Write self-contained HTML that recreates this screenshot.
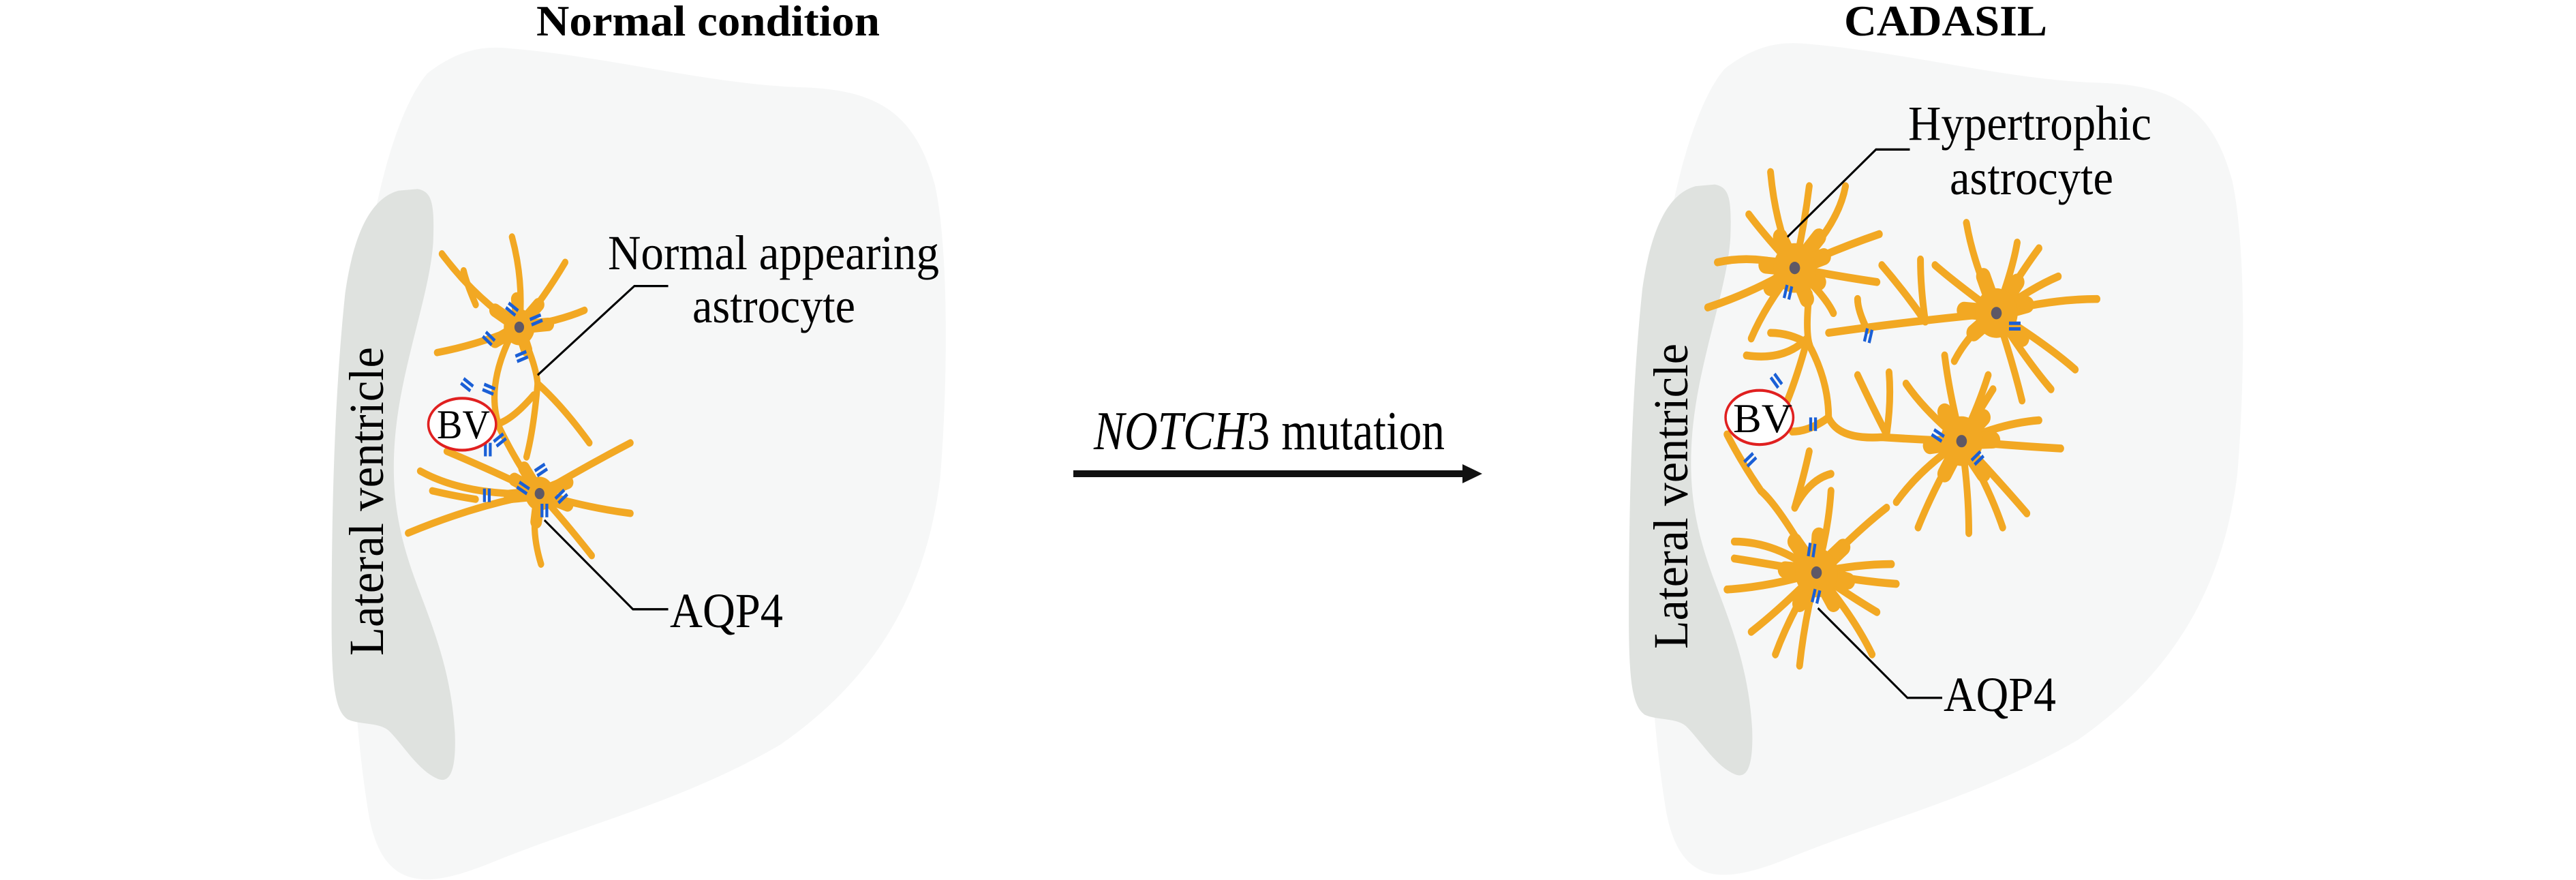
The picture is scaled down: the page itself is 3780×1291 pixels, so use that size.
<!DOCTYPE html>
<html><head><meta charset="utf-8"><style>
html,body{margin:0;padding:0;background:#fff;}
svg{display:block}
text{font-family:"Liberation Serif",serif;fill:#000}
</style></head><body>
<svg width="3780" height="1291" viewBox="0 0 3780 1291" xmlns="http://www.w3.org/2000/svg">
<defs>
<g id="blobs">
<path d="M480,85 C700,100 900,150 1100,155 C1250,160 1330,200 1370,330 C1400,450 1395,700 1380,850 C1350,1050 1250,1200 1050,1320 C850,1420 650,1460 450,1530 C320,1575 230,1580 200,1450 C160,1250 150,950 170,650 C190,400 250,200 320,130 C380,90 430,82 480,85 Z" fill="#f6f7f7"/>
<path d="M300,335 C330,340 335,360 332,430 C325,520 270,640 255,760 C240,880 265,960 300,1040 C340,1130 370,1200 377,1300 C380,1370 365,1390 340,1380 C300,1365 270,1320 240,1295 C220,1280 180,1285 155,1275 C130,1260 122,1220 122,1100 C122,900 128,700 150,520 C170,400 210,350 260,338 Z" fill="#dfe2df"/>
</g>
</defs>

<!-- LEFT PANEL -->
<g transform="translate(400,0) scale(0.7097,0.8276)">
<use href="#blobs"/>
<g fill="none" stroke="#f2a823" stroke-linecap="round">
 <g stroke-width="13">
  <path d="M510,580 Q520,500 495,420"/>
  <path d="M510,580 Q420,530 350,450"/>
  <path d="M510,580 Q560,530 605,465"/>
  <path d="M510,580 Q590,570 645,550"/>
  <path d="M510,580 Q430,610 340,625"/>
  <path d="M420,540 Q400,500 395,480"/>
  <path d="M490,600 Q440,690 470,760 Q510,830 552,875"/>
  <path d="M520,600 Q545,650 548,680 Q600,720 655,785"/>
  <path d="M548,680 Q540,760 525,810"/>
  <path d="M540,700 Q500,740 470,750"/>
  <path d="M552,875 Q420,895 280,945"/>
  <path d="M552,875 Q400,880 305,835"/>
  <path d="M552,875 Q640,830 740,785"/>
  <path d="M552,875 Q650,900 740,910"/>
  <path d="M552,875 Q530,930 555,1000"/>
  <path d="M552,875 Q600,920 660,985"/>
  <path d="M552,875 Q470,840 360,800"/>
  <path d="M420,885 Q380,880 330,870"/>
 </g>
 <g stroke-width="24">
  <path d="M510,580 L505,530"/><path d="M510,580 L460,550"/><path d="M510,580 L550,540"/>
  <path d="M510,580 L570,575"/><path d="M510,580 L460,605"/><path d="M510,580 L525,620"/>
  <path d="M552,875 L490,880"/><path d="M552,875 L610,855"/><path d="M552,875 L610,895"/>
  <path d="M552,875 L545,925"/><path d="M552,875 L520,830"/><path d="M552,875 L500,850"/>
 </g>
</g>
<circle cx="510" cy="580" r="32" fill="#f2a823"/>
<circle cx="552" cy="875" r="30" fill="#f2a823"/>
<circle cx="510" cy="580" r="10" fill="#5e5866"/>
<circle cx="552" cy="875" r="10" fill="#5e5866"/>
<g stroke="#1a5fd6" stroke-width="6">
 <g transform="translate(495,548) rotate(35)"><path d="M-12,-5 H12 M-12,5 H12"/></g>
 <g transform="translate(545,567) rotate(-20)"><path d="M-12,-5 H12 M-12,5 H12"/></g>
 <g transform="translate(447,600) rotate(40)"><path d="M-12,-5 H12 M-12,5 H12"/></g>
 <g transform="translate(515,632) rotate(-20)"><path d="M-12,-5 H12 M-12,5 H12"/></g>
 <g transform="translate(402,682) rotate(35)"><path d="M-12,-5 H12 M-12,5 H12"/></g>
 <g transform="translate(447,690) rotate(20)"><path d="M-12,-5 H12 M-12,5 H12"/></g>
 <g transform="translate(470,780) rotate(-35)"><path d="M-12,-5 H12 M-12,5 H12"/></g>
 <g transform="translate(445,797) rotate(90)"><path d="M-12,-5 H12 M-12,5 H12"/></g>
 <g transform="translate(555,833) rotate(-30)"><path d="M-12,-5 H12 M-12,5 H12"/></g>
 <g transform="translate(518,865) rotate(30)"><path d="M-12,-5 H12 M-12,5 H12"/></g>
 <g transform="translate(597,880) rotate(-40)"><path d="M-12,-5 H12 M-12,5 H12"/></g>
 <g transform="translate(443,878) rotate(90)"><path d="M-12,-5 H12 M-12,5 H12"/></g>
 <g transform="translate(562,905) rotate(90)"><path d="M-12,-5 H12 M-12,5 H12"/></g>
</g>
<ellipse cx="392" cy="752" rx="70" ry="46" fill="#fff" stroke="#e02020" stroke-width="5"/>
<g fill="none" stroke="#000" stroke-width="4">
 <path d="M548,665 L748,507 L818,507"/>
 <path d="M562,922 L745,1080 L818,1080"/>
</g>
</g>
<text x="1039" y="52" text-anchor="middle" font-weight="bold" font-size="64" textLength="504" lengthAdjust="spacingAndGlyphs">Normal condition</text>
<text x="892" y="395" font-size="72" textLength="486" lengthAdjust="spacingAndGlyphs">Normal appearing</text>
<text x="1016" y="473" font-size="72" textLength="239" lengthAdjust="spacingAndGlyphs">astrocyte</text>
<text x="983" y="920" font-size="72" textLength="166" lengthAdjust="spacingAndGlyphs">AQP4</text>
<text x="641" y="643" font-size="60" textLength="78" lengthAdjust="spacingAndGlyphs">BV</text>
<text transform="translate(562,962) rotate(-90)" font-size="72" textLength="453" lengthAdjust="spacingAndGlyphs">Lateral ventricle</text>

<!-- ARROW -->
<text x="1605" y="659" font-size="80" textLength="515" lengthAdjust="spacingAndGlyphs"><tspan font-style="italic">NOTCH</tspan>3 mutation</text>
<rect x="1575" y="690" width="575" height="10" fill="#111"/>
<path d="M2146,681 L2175,695 L2146,709 Z" fill="#111"/>

<!-- RIGHT PANEL -->
<g transform="translate(2300,0) scale(0.7097,0.8276)">
<use href="#blobs" transform="translate(5,-8)"/>
<g fill="none" stroke="#f2a823" stroke-linecap="round">
 <g stroke-width="14">
  <path d="M470,475 Q430,400 420,305"/>
  <path d="M470,475 Q560,400 575,330"/>
  <path d="M470,475 Q560,440 645,415"/>
  <path d="M470,475 Q390,450 310,465"/>
  <path d="M470,475 Q380,520 290,545"/>
  <path d="M470,475 Q410,540 380,600"/>
  <path d="M470,475 Q560,490 640,500"/>
  <path d="M470,475 Q530,520 550,555"/>
  <path d="M470,475 Q410,420 375,380"/>
  <path d="M470,475 Q490,400 500,330"/>
  <path d="M500,520 Q490,600 505,620 Q540,680 540,740 Q560,780 650,775 Q740,780 815,782"/>
  <path d="M540,740 Q500,765 465,765"/>
  <path d="M495,600 Q450,640 370,630"/>
  <path d="M490,620 Q470,680 450,720"/>
  <path d="M500,610 Q460,590 420,590"/>
  <path d="M540,590 Q700,570 887,555"/>
  <path d="M620,585 Q600,550 600,530"/>
  <path d="M887,555 Q840,470 825,395"/>
  <path d="M887,555 Q920,480 930,430"/>
  <path d="M887,555 Q940,480 975,440"/>
  <path d="M887,555 Q960,510 1015,490"/>
  <path d="M887,555 Q1000,530 1095,530"/>
  <path d="M887,555 Q990,610 1050,655"/>
  <path d="M887,555 Q950,640 1000,690"/>
  <path d="M887,555 Q920,640 940,710"/>
  <path d="M887,555 Q830,590 800,640"/>
  <path d="M740,570 Q700,520 650,470"/>
  <path d="M740,570 Q730,510 730,460"/>
  <path d="M887,555 Q800,500 760,470"/>
  <path d="M815,782 Q740,730 700,680"/>
  <path d="M815,782 Q850,720 870,665"/>
  <path d="M815,782 Q900,750 975,745"/>
  <path d="M815,782 Q920,790 1020,795"/>
  <path d="M815,782 Q890,850 950,910"/>
  <path d="M815,782 Q870,860 900,935"/>
  <path d="M815,782 Q830,870 830,945"/>
  <path d="M815,782 Q760,860 725,935"/>
  <path d="M815,782 Q730,830 680,890"/>
  <path d="M660,770 Q630,720 600,665"/>
  <path d="M660,770 Q670,710 665,660"/>
  <path d="M815,782 Q790,700 780,630"/>
  <path d="M815,782 Q850,730 880,690"/>
  <path d="M515,1015 Q540,940 545,870"/>
  <path d="M515,1015 Q600,940 660,900"/>
  <path d="M515,1015 Q600,1000 670,1000"/>
  <path d="M515,1015 Q600,1030 680,1035"/>
  <path d="M515,1015 Q590,1060 640,1085"/>
  <path d="M515,1015 Q590,1090 630,1160"/>
  <path d="M515,1015 Q490,1100 480,1180"/>
  <path d="M515,1015 Q460,1090 430,1160"/>
  <path d="M515,1015 Q440,1080 380,1120"/>
  <path d="M515,1015 Q420,1040 330,1045"/>
  <path d="M515,1015 Q420,1000 345,990"/>
  <path d="M515,1015 Q430,960 345,960"/>
  <path d="M515,1015 Q440,900 400,870 Q360,820 330,770"/>
  <path d="M470,900 Q500,850 545,840"/>
  <path d="M470,900 Q490,840 500,800"/>
 </g>
 <g stroke-width="30">
  <path d="M470,475 L440,420"/><path d="M470,475 L520,420"/><path d="M470,475 L530,455"/>
  <path d="M470,475 L410,470"/><path d="M470,475 L420,510"/><path d="M470,475 L520,500"/><path d="M470,475 L495,530"/>
  <path d="M887,555 L860,490"/><path d="M887,555 L930,500"/><path d="M887,555 L950,540"/>
  <path d="M887,555 L940,600"/><path d="M887,555 L840,590"/><path d="M887,555 L820,550"/>
  <path d="M815,782 L780,730"/><path d="M815,782 L860,740"/><path d="M815,782 L880,780"/>
  <path d="M815,782 L860,840"/><path d="M815,782 L780,840"/><path d="M815,782 L750,790"/>
  <path d="M515,1015 L520,950"/><path d="M515,1015 L570,970"/><path d="M515,1015 L580,1030"/>
  <path d="M515,1015 L550,1070"/><path d="M515,1015 L480,1070"/><path d="M515,1015 L450,1010"/><path d="M515,1015 L470,960"/>
 </g>
</g>
<circle cx="470" cy="475" r="44" fill="#f2a823"/>
<circle cx="887" cy="555" r="44" fill="#f2a823"/>
<circle cx="815" cy="782" r="44" fill="#f2a823"/>
<circle cx="515" cy="1015" r="44" fill="#f2a823"/>
<circle cx="470" cy="475" r="11" fill="#5e5866"/>
<circle cx="887" cy="555" r="11" fill="#5e5866"/>
<circle cx="815" cy="782" r="11" fill="#5e5866"/>
<circle cx="515" cy="1015" r="11" fill="#5e5866"/>
<g stroke="#1a5fd6" stroke-width="6">
 <g transform="translate(456,518) rotate(105)"><path d="M-12,-5 H12 M-12,5 H12"/></g>
 <g transform="translate(622,595) rotate(105)"><path d="M-12,-5 H12 M-12,5 H12"/></g>
 <g transform="translate(925,578) rotate(0)"><path d="M-12,-5 H12 M-12,5 H12"/></g>
 <g transform="translate(432,675) rotate(50)"><path d="M-12,-5 H12 M-12,5 H12"/></g>
 <g transform="translate(508,752) rotate(90)"><path d="M-12,-5 H12 M-12,5 H12"/></g>
 <g transform="translate(378,815) rotate(-40)"><path d="M-12,-5 H12 M-12,5 H12"/></g>
 <g transform="translate(766,772) rotate(30)"><path d="M-12,-5 H12 M-12,5 H12"/></g>
 <g transform="translate(848,812) rotate(-40)"><path d="M-12,-5 H12 M-12,5 H12"/></g>
 <g transform="translate(505,975) rotate(100)"><path d="M-12,-5 H12 M-12,5 H12"/></g>
 <g transform="translate(514,1057) rotate(105)"><path d="M-12,-5 H12 M-12,5 H12"/></g>
</g>
<ellipse cx="397" cy="740" rx="70" ry="48" fill="#fff" stroke="#e02020" stroke-width="5"/>
<g fill="none" stroke="#000" stroke-width="4">
 <path d="M455,420 L638,265 L708,265"/>
 <path d="M518,1078 L703,1237 L775,1237"/>
</g>
</g>
<text x="2855" y="52" text-anchor="middle" font-weight="bold" font-size="64" textLength="298" lengthAdjust="spacingAndGlyphs">CADASIL</text>
<text x="2800" y="205" font-size="72" textLength="357" lengthAdjust="spacingAndGlyphs">Hypertrophic</text>
<text x="2861" y="285" font-size="72" textLength="240" lengthAdjust="spacingAndGlyphs">astrocyte</text>
<text x="2852" y="1043" font-size="72" textLength="165" lengthAdjust="spacingAndGlyphs">AQP4</text>
<text x="2543" y="634" font-size="60" textLength="87" lengthAdjust="spacingAndGlyphs">BV</text>
<text transform="translate(2476,952) rotate(-90)" font-size="72" textLength="448" lengthAdjust="spacingAndGlyphs">Lateral ventricle</text>
</svg>
</body></html>
